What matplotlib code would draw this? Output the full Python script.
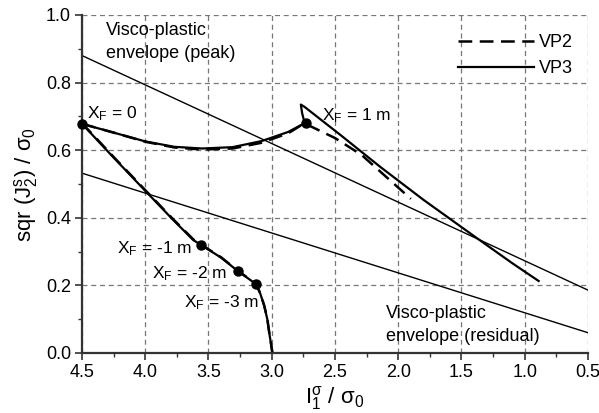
import matplotlib
matplotlib.use("Agg")
import matplotlib.pyplot as plt
from matplotlib.ticker import MultipleLocator

plt.rcParams["font.family"] = ["Liberation Sans", "DejaVu Sans"]
plt.rcParams["mathtext.fontset"] = "custom"
plt.rcParams["mathtext.rm"] = "Liberation Sans"
plt.rcParams["mathtext.it"] = "Liberation Sans"
plt.rcParams["mathtext.default"] = "regular"

# stress path, X_F = 0 -> 1 m (VP3), incl. cusp and unloading branch
vp3_up_x = [4.50, 4.24, 4.00, 3.77, 3.55, 3.31, 3.08, 2.87, 2.74, 2.76, 2.77, 2.74,
            2.45, 2.14, 1.80, 1.39, 1.10, 0.89]
vp3_up_y = [0.678, 0.651, 0.626, 0.610, 0.605, 0.609, 0.627, 0.654, 0.680, 0.710, 0.735, 0.728,
            0.643, 0.550, 0.453, 0.343, 0.266, 0.213]
# stress path, X_F = 0 -> -3 m (VP3)
vp3_dn_x = [4.50, 4.25, 3.99, 3.78, 3.62, 3.56, 3.40, 3.27, 3.125, 3.09, 3.06, 3.035, 3.02, 3.005, 2.995]
vp3_dn_y = [0.678, 0.578, 0.476, 0.394, 0.334, 0.320, 0.282, 0.243, 0.204, 0.175, 0.140, 0.100, 0.060, 0.025, 0.0]

# VP2 paths
vp2_up_x = [4.50, 4.24, 4.00, 3.77, 3.55, 3.31, 3.08, 2.87, 2.74, 2.70, 2.50, 2.29, 1.90]
vp2_up_y = [0.678, 0.651, 0.625, 0.608, 0.602, 0.605, 0.622, 0.650, 0.680, 0.672, 0.636, 0.586, 0.456]
vp2_dn_x = [4.50, 4.25, 3.99, 3.78, 3.62, 3.56, 3.40, 3.27, 3.125, 3.09, 3.06, 3.035, 3.02, 3.005, 2.995]
vp2_dn_y = [0.680, 0.580, 0.478, 0.396, 0.336, 0.321, 0.283, 0.244, 0.205, 0.176, 0.141, 0.101, 0.061, 0.026, 0.0]

# visco-plastic envelopes (straight lines)
env_x = [4.5, 0.5]
env_peak_y = [0.88, 0.186]
env_res_y = [0.532, 0.060]

# marked face positions
mark_x = [4.50, 2.73, 3.56, 3.27, 3.125]
mark_y = [0.678, 0.680, 0.320, 0.243, 0.204]
mark_lbl = ["$X_F$ = 0", "$X_F$ = 1 m", "$X_F$ = -1 m", "$X_F$ = -2 m", "$X_F$ = -3 m"]
lbl_x = [4.46, 2.60, 4.22, 3.95, 3.69]
lbl_y = [0.695, 0.689, 0.296, 0.222, 0.136]

fig = plt.figure(figsize=(5.99, 4.13), dpi=100)
ax = fig.add_axes([0.1369, 0.1453, 0.8447, 0.8184])

ax.plot(env_x, env_peak_y, color="black", lw=1.0)
ax.plot(env_x, env_res_y, color="black", lw=1.0)

dash = (0, (5.5, 3))
ax.plot(vp2_up_x, vp2_up_y, color="black", lw=1.8, ls=dash, label="VP2")
ax.plot(vp2_dn_x, vp2_dn_y, color="black", lw=1.8, ls=dash)
ax.plot(vp3_up_x, vp3_up_y, color="black", lw=1.6, label="VP3")
ax.plot(vp3_dn_x, vp3_dn_y, color="black", lw=1.6)

ax.plot(mark_x, mark_y, "o", color="black", ms=6.5, clip_on=False, zorder=5)
for tx, ty, s in zip(lbl_x, lbl_y, mark_lbl):
    ax.text(tx, ty, s, fontsize=12.5, ha="left", va="baseline")

# envelope captions, one text per line
ax.text(4.31, 0.941, "Visco-plastic", fontsize=13, va="baseline", ha="left")
ax.text(4.31, 0.873, "envelope (peak)", fontsize=13, va="baseline", ha="left")
ax.text(2.097, 0.1036, "Visco-plastic", fontsize=13, va="baseline", ha="left")
ax.text(2.097, 0.0355, "envelope (residual)", fontsize=13, va="baseline", ha="left")

ax.set_xlim(4.5, 0.5)
ax.set_ylim(0.0, 1.0)
ax.xaxis.set_major_locator(MultipleLocator(0.5))
ax.xaxis.set_minor_locator(MultipleLocator(0.25))
ax.yaxis.set_major_locator(MultipleLocator(0.2))
ax.yaxis.set_minor_locator(MultipleLocator(0.1))
ax.xaxis.set_major_formatter(lambda v, p: f"{v:.1f}")
ax.yaxis.set_major_formatter(lambda v, p: f"{v:.1f}")

ax.grid(True, which="major", color="#777777", ls=(0, (4, 3)), lw=0.9)
for side in ["top", "right"]:
    ax.spines[side].set_visible(False)
for side in ["left", "bottom"]:
    ax.spines[side].set_color("#333333")
    ax.spines[side].set_linewidth(1.6)
ax.tick_params(which="major", direction="out", length=5, width=1.2, color="#333333",
               labelsize=13, pad=3)
ax.tick_params(which="minor", direction="out", length=3, width=1.0, color="#333333")

ax.set_xlabel(r"I$_1^σ$ / σ$_0$", fontsize=16, labelpad=2)
ax.set_ylabel(r"sqr (J$_2^s$) / σ$_0$", fontsize=16, labelpad=4)

ax.legend(loc="upper left", bbox_to_anchor=(458 / 599, 1 - 34 / 413),
          bbox_transform=fig.transFigure, frameon=False, fontsize=13,
          handlelength=4.2, handletextpad=0.3, labelspacing=0.5, borderpad=0,
          borderaxespad=0)

fig.savefig("out.png", dpi=100)
plt.close(fig)
